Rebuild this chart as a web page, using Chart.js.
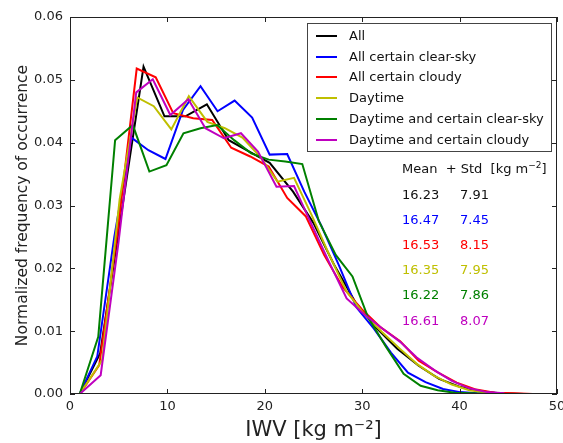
<!DOCTYPE html>
<html>
<head>
<meta charset="utf-8">
<script src="https://cdn.jsdelivr.net/npm/chart.js@4/dist/chart.umd.min.js"></script>
<style>
body { margin: 0; background: #fff; font-family: "DejaVu Sans", sans-serif; }
#wrap { position: relative; width: 563px; height: 443px; overflow: hidden; }
#legend { position: absolute; left: 307px; top: 23px; width: 245px; height: 129px; border: 1px solid #444; background: #fff; box-sizing: border-box; font-size: 13px; color: #111; }
.row { position: absolute; left: 0; height: 16px; line-height: 16px; white-space: nowrap; }
.row i { position: absolute; left: 8px; top: 7px; width: 21px; height: 2px; }
.row span { position: absolute; left: 41px; top: 0; }
.stat { position: absolute; font-size: 13px; line-height: 16px; white-space: pre; }
sup { font-size: 9px; vertical-align: 5px; line-height: 0; }
</style>
</head>
<body>
<div id="wrap">
  <canvas id="myChart" width="563" height="443"></canvas>
  <div id="legend"></div>
</div>
<script>
var names = ["All", "All certain clear-sky", "All certain cloudy", "Daytime",
    "Daytime and certain clear-sky", "Daytime and certain cloudy"];
var colors = ["#000000", "#0000ff", "#ff0000", "#bfbf00", "#008000", "#bf00bf"];

// IWV bin centres [kg m-2] and normalized frequencies, one pair per subset
var allX = [1.0, 3.1, 5.3, 7.55, 9.7, 11.85, 14.05, 16.3, 18.5, 20.5, 22.9, 25.0, 27.1, 29.3, 31.4, 33.6, 35.8, 37.9, 40.1, 42.3, 44.4, 46.6, 48.8, 50];
var allY = [0, 0.0065, 0.029, 0.0521, 0.0442, 0.0442, 0.0461, 0.0404, 0.0385, 0.0368, 0.0322, 0.0272, 0.0206, 0.0146, 0.0106, 0.0072, 0.0045, 0.0024, 0.0011, 0.0004, 0.0001, 0, 0, 0];

var clearX = [1.0, 2.8, 4.55, 6.3, 8.05, 9.8, 11.6, 13.4, 15.15, 16.9, 18.7, 20.5, 22.3, 24.05, 25.8, 27.6, 29.4, 31.2, 32.95, 34.7, 36.5, 38.3, 40.05, 41.8, 43.6];
var clearY = [0, 0.006, 0.025, 0.0408, 0.0388, 0.0374, 0.0452, 0.0490, 0.0450, 0.0467, 0.0440, 0.0381, 0.0382, 0.0322, 0.0268, 0.0205, 0.0138, 0.0104, 0.0066, 0.0034, 0.0019, 0.0008, 0.0003, 0.0001, 0];

var cloudyX = [1.0, 3.0, 4.9, 6.85, 8.8, 10.6, 12.65, 14.6, 16.55, 18.5, 20.4, 22.3, 24.2, 26.1, 28.0, 29.95, 31.9, 33.9, 35.8, 37.8, 39.7, 41.7, 43.6, 45.6, 47.5];
var cloudyY = [0, 0.0046, 0.026, 0.0518, 0.0504, 0.0447, 0.0439, 0.0436, 0.0392, 0.0378, 0.0362, 0.0312, 0.0283, 0.0221, 0.0170, 0.0135, 0.0106, 0.0084, 0.0053, 0.0034, 0.0018, 0.0007, 0.0002, 0.0001, 0];

var dayX = [1.0, 3.3, 5.1, 6.9, 8.6, 10.4, 12.2, 14.1, 15.9, 17.7, 19.5, 21.3, 23.0, 24.8, 26.6, 28.4, 30.2, 32.0, 33.8, 35.6, 37.4, 39.2, 41.0, 42.8, 44.6];
var dayY = [0, 0.0054, 0.031, 0.0472, 0.0458, 0.0421, 0.0474, 0.0433, 0.0423, 0.0408, 0.0378, 0.0338, 0.0344, 0.0285, 0.0222, 0.0163, 0.0127, 0.0099, 0.0073, 0.0048, 0.0029, 0.0015, 0.0006, 0.0002, 0];

var dayClearX = [1.0, 2.9, 4.63, 6.45, 8.15, 9.9, 11.65, 13.4, 15.1, 16.85, 18.6, 20.4, 22.1, 23.85, 25.55, 27.3, 29.0, 30.6, 32.45, 34.25, 36.0, 37.75, 39.5, 41.25, 43.0];
var dayClearY = [0, 0.0091, 0.0404, 0.0428, 0.0354, 0.0364, 0.0415, 0.0423, 0.0428, 0.0404, 0.0383, 0.0373, 0.0370, 0.0366, 0.0275, 0.0221, 0.0187, 0.0122, 0.0075, 0.0032, 0.0013, 0.0006, 0.0002, 0.0001, 0];

var dayCloudyX = [1.0, 3.15, 4.97, 6.8, 8.5, 10.3, 12.15, 13.9, 15.8, 17.55, 19.3, 21.2, 23.0, 24.8, 26.6, 28.4, 30.2, 32.0, 33.9, 35.6, 37.4, 39.2, 41.0, 42.8, 44.6];
var dayCloudyY = [0, 0.003, 0.024, 0.0480, 0.0501, 0.0444, 0.0469, 0.0423, 0.0407, 0.0415, 0.0386, 0.0330, 0.0331, 0.0270, 0.0210, 0.0152, 0.0127, 0.0105, 0.0083, 0.0058, 0.0038, 0.0021, 0.0009, 0.0003, 0.0001];

var means = ["16.23", "16.47", "16.53", "16.35", "16.22", "16.61"];
var stds = ["7.91", "7.45", "8.15", "7.95", "7.86", "8.07"];

var xTicks = [0, 10, 20, 30, 40, 50];
var yTicks = [0, 0.01, 0.02, 0.03, 0.04, 0.05, 0.06];

var seriesX = [allX, clearX, cloudyX, dayX, dayClearX, dayCloudyX];
var seriesY = [allY, clearY, cloudyY, dayY, dayClearY, dayCloudyY];

var datasets = names.map(function(n, i) {
    return {
        label: n,
        data: seriesX[i].map(function(x, j) { return {x: x, y: seriesY[i][j]}; }),
        borderColor: colors[i],
        backgroundColor: colors[i],
        borderWidth: 2,
        pointRadius: 0,
        tension: 0,
        order: names.length - i
    };
});

// box round the axes plus inward tick marks on all four sides
var frameTicks = {
    id: 'frameTicks',
    afterDraw: function(chart) {
        var ctx = chart.ctx, a = chart.chartArea, x = chart.scales.x, y = chart.scales.y;
        ctx.save();
        ctx.strokeStyle = '#222';
        ctx.lineWidth = 1;
        ctx.strokeRect(a.left + 0.5, a.top + 0.5, a.right - a.left - 1, a.bottom - a.top - 1);
        ctx.beginPath();
        x.ticks.forEach(function(t) {
            var px = Math.round(x.getPixelForValue(t.value)) + 0.5;
            ctx.moveTo(px, a.bottom); ctx.lineTo(px, a.bottom - 5);
            ctx.moveTo(px, a.top); ctx.lineTo(px, a.top + 5);
        });
        y.ticks.forEach(function(t) {
            var py = Math.round(y.getPixelForValue(t.value)) + 0.5;
            ctx.moveTo(a.left, py); ctx.lineTo(a.left + 5, py);
            ctx.moveTo(a.right, py); ctx.lineTo(a.right - 5, py);
        });
        ctx.stroke();
        ctx.restore();
    }
};

Chart.defaults.font.family = '"DejaVu Sans", sans-serif';
Chart.defaults.color = '#222';

var ctx = document.getElementById('myChart');
var myLineChart = new Chart(ctx, {
    type: 'line',
    data: { datasets: datasets },
    options: {
        responsive: false,
        animation: false,
        layout: { padding: { left: 0, right: 6, top: 17, bottom: 0 } },
        plugins: { legend: { display: false }, tooltip: { enabled: false } },
        scales: {
            x: {
                type: 'linear', min: 0, max: 50,
                grid: { display: false, drawTicks: false },
                border: { display: false },
                afterBuildTicks: function(s) { s.ticks = xTicks.map(function(v) { return {value: v}; }); },
                afterFit: function(s) { s.height = 49; s.paddingLeft = 0; s.paddingRight = 0; },
                ticks: { font: { size: 13 }, padding: 5, maxRotation: 0 },
                title: { display: true, text: 'IWV [kg m\u207B\u00B2]', font: { size: 21 }, padding: { top: 0, bottom: 0 } }
            },
            y: {
                min: 0, max: 0.06,
                grid: { display: false, drawTicks: false },
                border: { display: false },
                afterBuildTicks: function(s) { s.ticks = yTicks.map(function(v) { return {value: v}; }); },
                afterFit: function(s) { s.width = 70; s.paddingTop = 0; s.paddingBottom = 0; },
                ticks: { font: { size: 13 }, padding: 7, callback: function(v) { return v.toFixed(2); } },
                title: { display: true, text: 'Normalized frequency of occurrence', font: { size: 15.5 }, padding: { top: 14, bottom: 0 } }
            }
        }
    },
    plugins: [frameTicks]
});

// legend box and the mean / std table, as real text
var legend = document.getElementById('legend');
names.forEach(function(n, i) {
    var row = document.createElement('div');
    row.className = 'row';
    row.style.top = (4 + i * 20.7) + 'px';
    row.innerHTML = '<i style="background:' + colors[i] + '"></i><span>' + n + '</span>';
    legend.appendChild(row);
});

var wrap = document.getElementById('wrap');
function addText(html, left, top, color) {
    var d = document.createElement('div');
    d.className = 'stat';
    d.style.left = left + 'px';
    d.style.top = top + 'px';
    d.style.color = color;
    d.innerHTML = html;
    wrap.appendChild(d);
}
addText('Mean  + Std  [kg m<sup>\u22122</sup>]', 402, 161, '#111');
means.forEach(function(m, i) {
    addText(m, 402, 187 + i * 25.1, colors[i] === '#000000' ? '#111' : colors[i]);
    addText(stds[i], 460, 187 + i * 25.1, colors[i] === '#000000' ? '#111' : colors[i]);
});
</script>
</body>
</html>
